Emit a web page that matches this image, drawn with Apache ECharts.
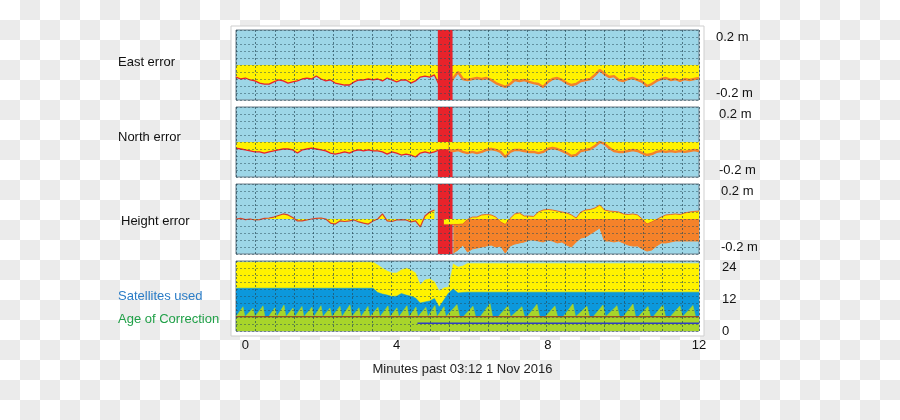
<!DOCTYPE html>
<html>
<head>
<meta charset="utf-8">
<script src="https://cdn.jsdelivr.net/npm/echarts@6/dist/echarts.min.js"></script>
<style>
html, body { margin: 0; padding: 0; }
body { background: repeating-conic-gradient(#ebebeb 0 25%, #ffffff 0 50%) 0 0 / 40px 40px; }
#chart { width: 900px; height: 420px; }
</style>
</head>
<body>
<div id="chart"></div>
<script>
// GNSS error plot: east / north / height error, satellites and correction age
const FONT = '"Liberation Sans", Arial, sans-serif'

// sample times, minutes past 03:12
const times = [-0.25,-0.125,0,0.125,0.25,0.375,0.5,0.625,0.75,0.875,1,1.125,1.25,1.375,1.5,1.625,1.75,1.875,2,2.125,2.25,2.375,2.5,2.625,2.75,2.875,3,3.125,3.25,3.375,3.5,3.625,3.75,3.875,4,4.125,4.25,4.375,4.5,4.625,4.75,4.875,5,5.125,5.25,5.375,5.5,5.625,5.75,5.875,6,6.125,6.25,6.375,6.5,6.625,6.75,6.875,7,7.125,7.25,7.375,7.5,7.625,7.75,7.875,8,8.125,8.25,8.375,8.5,8.625,8.75,8.875,9,9.125,9.25,9.375,9.5,9.625,9.75,9.875,10,10.125,10.25,10.375,10.5,10.625,10.75,10.875,11,11.125,11.25,11.375,11.5,11.625,11.75,11.875,12]

// errors in metres
const eastErr = [-0.086,-0.100,-0.093,-0.107,-0.114,-0.129,-0.136,-0.136,-0.121,-0.107,-0.114,-0.129,-0.121,-0.114,-0.100,-0.093,-0.100,-0.079,-0.100,-0.114,-0.107,-0.129,-0.136,-0.143,-0.143,-0.121,-0.107,-0.107,-0.100,-0.107,-0.100,-0.114,-0.093,-0.107,-0.121,-0.107,-0.107,-0.129,-0.114,-0.086,-0.079,-0.086,-0.071,-0.143,-0.150,-0.150,-0.093,-0.050,-0.100,-0.107,-0.100,-0.093,-0.100,-0.093,-0.107,-0.129,-0.143,-0.157,-0.136,-0.107,-0.114,-0.107,-0.121,-0.129,-0.136,-0.157,-0.121,-0.100,-0.093,-0.107,-0.129,-0.143,-0.136,-0.114,-0.107,-0.100,-0.071,-0.036,-0.064,-0.086,-0.079,-0.107,-0.114,-0.100,-0.093,-0.107,-0.121,-0.150,-0.136,-0.114,-0.100,-0.093,-0.107,-0.100,-0.114,-0.100,-0.107,-0.100,-0.093]

const northErr = [-0.043,-0.050,-0.057,-0.064,-0.071,-0.071,-0.079,-0.071,-0.064,-0.057,-0.050,-0.050,-0.057,-0.079,-0.057,-0.050,-0.043,-0.050,-0.057,-0.064,-0.079,-0.086,-0.079,-0.071,-0.079,-0.064,-0.057,-0.064,-0.057,-0.064,-0.064,-0.071,-0.086,-0.071,-0.079,-0.093,-0.086,-0.093,-0.107,-0.079,-0.071,-0.079,-0.071,-0.057,-0.057,-0.057,-0.064,-0.057,-0.071,-0.079,-0.071,-0.079,-0.071,-0.057,-0.050,-0.057,-0.071,-0.107,-0.071,-0.057,-0.057,-0.064,-0.071,-0.071,-0.079,-0.071,-0.050,-0.043,-0.050,-0.064,-0.079,-0.100,-0.093,-0.064,-0.057,-0.050,-0.029,0.000,-0.014,-0.043,-0.064,-0.071,-0.071,-0.064,-0.057,-0.064,-0.079,-0.093,-0.086,-0.071,-0.064,-0.071,-0.064,-0.071,-0.064,-0.071,-0.064,-0.057,-0.064]

// height before the outage (fixed solution)
const heightFixed = [0,0.004,-0.004,0,-0.007,-0.004,0.004,0.007,0.014,0.025,0.036,0.029,0.011,-0.014,-0.014,-0.007,0,0.004,0.007,0,-0.029,-0.036,-0.014,-0.018,-0.014,-0.007,-0.021,-0.029,-0.036,-0.014,0,0.036,-0.014,-0.018,-0.007,-0.004,-0.007,-0.021,-0.014,-0.057,0.021,0.050,0.064,null,null,null,null,null,null,null,null,null,null,null,null,null,null,null,null,null,null,null,null,null,null,null,null,null,null,null,null,null,null,null,null,null,null,null,null,null,null,null,null,null,null,null,null,null,null,null,null,null,null,null,null,null,null,null,null]
// height after the outage: upper and lower bound
const heightUpper = [null,null,null,null,null,null,null,null,null,null,null,null,null,null,null,null,null,null,null,null,null,null,null,null,null,null,null,null,null,null,null,null,null,null,null,null,null,null,null,null,null,null,null,null,-0.039,-0.039,-0.039,-0.039,-0.036,-0.004,0.014,0.014,0.029,0.032,0.029,0.014,-0.021,-0.039,0.004,0.036,0.043,0.021,0.021,0.018,0.050,0.064,0.068,0.064,0.057,0.050,0.043,0.029,0.007,0.050,0.064,0.068,0.079,0.100,0.064,0.057,0.054,0.050,0.036,0.032,0.036,0.029,0,-0.036,-0.021,-0.004,0.014,0.029,0.032,0.036,0.032,0.043,0.050,0.054,0.057]
const heightLower = [null,null,null,null,null,null,null,null,null,null,null,null,null,null,null,null,null,null,null,null,null,null,null,null,null,null,null,null,null,null,null,null,null,null,null,null,null,null,null,null,null,null,null,null,null,null,-0.243,-0.221,-0.186,-0.236,-0.214,-0.207,-0.200,-0.193,-0.186,-0.200,-0.193,-0.243,-0.193,-0.179,-0.171,-0.164,-0.150,-0.150,-0.157,-0.164,-0.150,-0.157,-0.171,-0.164,-0.186,-0.200,-0.164,-0.136,-0.129,-0.107,-0.086,-0.064,-0.157,-0.157,-0.164,-0.157,-0.171,-0.186,-0.193,-0.193,-0.214,-0.229,-0.221,-0.193,-0.171,-0.171,-0.164,-0.157,-0.157,-0.157,-0.157,-0.157,-0.157]

// satellites visible / used
const satsVisible = [26,26,26,26,26,26,26,26,26,26,26,26,26,26,26,26,26,26,26,26,26,26,26,26,26,26,26,26,26,26,25,23.8,22.7,22,22,23.1,23.8,23.1,22,17.4,19.3,19.7,18.6,15.1,16.3,16.7,25.4,24.2,24.6,25.6,25.6,25.6,25.6,25.6,25.6,25.6,25.6,25.6,25.6,25.6,25.6,25.6,25.6,25.6,25.6,25.6,25.6,25.6,25.6,25.6,25.6,25.6,25.6,25.6,25.6,25.6,25.6,25.6,25.6,25.6,25.6,25.6,25.6,25.6,25.6,25.6,25.6,25.6,25.6,25.6,25.6,25.6,25.6,25.6,25.6,25.6,25.6,25.6,25.6]
const satsUsed = [16.2,16.2,16.2,16.2,16.2,16.2,16.2,16.2,16.2,16.2,16.2,16.2,16.2,16.2,16.2,16.2,16.2,16.2,16.2,16.2,16.2,16.2,16.2,16.2,16.2,16.2,16.2,16.2,16.2,16.2,14.6,14,13.6,13.1,13.2,14.2,13.6,13.2,12.5,10.6,11,11.4,12.3,9.1,11.7,14.4,15.9,14.4,14.6,14.7,14.7,14.7,14.7,14.7,14.7,14.7,14.7,14.7,14.7,14.7,14.7,14.7,14.7,14.7,14.7,14.7,14.7,14.7,14.7,14.7,14.7,14.7,14.7,14.7,14.7,14.7,14.7,14.7,14.7,14.7,14.7,14.7,14.7,14.7,14.7,14.7,14.7,14.7,14.7,14.7,14.7,14.7,14.7,14.7,14.7,14.7,14.7,14.7,14.7]

// age of correction (saw-tooth), own time base
const ageTimes = [-0.25,-0.065,-0.015, 0.03,0.2,0.25, 0.294,0.464,0.514, 0.61,0.78,0.83, 0.85,1.02,1.07, 1.088,1.258,1.308, 1.326,1.496,1.546, 1.59,1.76,1.81, 1.829,1.999,2.049, 2.067,2.237,2.287, 2.331,2.501,2.551, 2.596,2.766,2.816, 2.834,3.004,3.054, 3.072,3.242,3.292, 3.337,3.507,3.557, 3.601,3.771,3.821, 3.839,4.009,4.059, 4.104,4.274,4.324, 4.342,4.512,4.562, 4.606,4.776,4.826, 4.845,5.015,5.065, 5.083,5.253,5.303, 5.337,5.597,5.667, 5.76,6.02,6.09, 6.21,6.47,6.54, 6.686,6.946,7.016, 7.056,7.316,7.386, 7.453,7.713,7.783, 7.929,8.189,8.259, 8.405,8.665,8.735, 8.776,9.036,9.106, 9.199,9.459,9.529, 9.569,9.829,9.899, 9.993,10.253,10.323, 10.39,10.65,10.72, 10.786,11.046,11.116, 11.236,11.496,11.566, 11.58,11.84,11.91, 12]
const ageValues = [5.4,9.2,5.4, 5.4,8.6,5.4, 5.4,9.5,5.4, 5.4,8.8,5.4, 5.4,9.8,5.4, 5.4,8.7,5.4, 5.4,9.3,5.4, 5.4,9.0,5.4, 5.4,9.6,5.4, 5.4,8.7,5.4, 5.4,9.4,5.4, 5.4,9.9,5.4, 5.4,8.8,5.4, 5.4,9.3,5.4, 5.4,9.0,5.4, 5.4,9.5,5.4, 5.4,8.8,5.4, 5.4,9.6,5.4, 5.4,9.1,5.4, 5.4,9.0,5.4, 5.4,9.7,5.4, 5.4,9.2,5.4, 5.4,10.0,5.4, 5.4,9.4,5.4, 5.4,10.4,5.4, 5.4,9.6,5.4, 5.4,9.2,5.4, 5.4,10.1,5.4, 5.4,9.5,5.4, 5.4,10.3,5.4, 5.4,9.4,5.4, 5.4,9.8,5.4, 5.4,9.6,5.4, 5.4,10.2,5.4, 5.4,9.3,5.4, 5.4,9.9,5.4, 5.4,9.5,5.4, 5.4,9.7,5.4, 5.4]
const ageLimit = 5.4
const baseTimes = [4.55, 12]
const baseValues = [2.9, 2.9]

// correction outage window (minutes)
const outage = [5.09, 5.48]

const xTicks = [0, 4, 8, 12]
const errTicks = [-0.2, 0.2]
const satTicks = [0, 12, 24]
const rowLabels = ['East error', 'North error', 'Height error']

// colours
const C = {
  bg: '#9dd6e7', vgrid: 'rgba(40,75,90,0.7)', hgrid: 'rgba(40,75,90,0.5)', yellow: '#fff200', red: '#e8232b',
  orange: '#f5822a', blue: '#0c98dc', lime: '#a8d52a'
}

const pair = (ts, vs) => ts.map((t, i) => [t, vs[i] == null ? null : vs[i]])
const part = (vs, from, to) => times.map((t, i) => [t, i >= from && i <= to ? vs[i] : null])

const grids = [0, 1, 2, 3].map(i => ({
  left: 236, top: 30 + 77 * i, width: 463, height: 70,
  show: true, backgroundColor: C.bg, borderColor: '#6a7c88', borderWidth: 1
}))

const dashV = { show: true, lineStyle: { color: C.vgrid, type: [2, 2], width: 1 } }
const dashH = { show: true, lineStyle: { color: C.hgrid, type: [2, 2], width: 1 } }
const off = { show: false }

const xAxes = [0, 1, 2, 3].map(i => ({
  type: 'value', gridIndex: i, min: -0.25, max: 12,
  axisLine: off, axisTick: off, splitLine: off,
  axisLabel: i === 3 ? { customValues: xTicks, color: '#111', fontSize: 13, margin: 8 } : off,
  name: i === 3 ? 'Minutes past 03:12 1 Nov 2016' : '',
  nameLocation: 'middle', nameGap: 32,
  nameTextStyle: { color: '#222', fontSize: 13, padding: [0, 10, 0, 0] }
})).concat([0, 1, 2, 3].map(i => ({
  // half-minute grid divisions
  type: 'value', gridIndex: i, min: 0, max: 23.87, interval: 1, z: 10,
  axisLine: off, axisTick: off, axisLabel: off, splitLine: dashV
})))

const labelMargins = [17, 20, 22, 23]
const yAxes = [0, 1, 2, 3].map(i => ({
  type: 'value', gridIndex: i, position: 'right', z: 10,
  min: i < 3 ? -0.25 : 0, max: i < 3 ? 0.25 : 26.5, interval: i < 3 ? 0.05 : 2.65,
  axisLine: off, axisTick: off, splitLine: dashH,
  axisLabel: {
    customValues: i < 3 ? errTicks : satTicks,
    formatter: i < 3 ? (v => v + ' m') : (v => String(v)),
    color: '#111', fontSize: 13, margin: labelMargins[i]
  }
}))

function outageSeries(i, z) {
  return {
    type: 'custom', xAxisIndex: i, yAxisIndex: i, z: z, silent: true,
    data: [outage], encode: { x: [0, 1] },
    renderItem: (params, api) => {
      const x0 = api.coord([api.value(0), 0])[0]
      const x1 = api.coord([api.value(1), 0])[0]
      const cs = params.coordSys
      return { type: 'rect', shape: { x: x0, y: cs.y, width: x1 - x0, height: cs.height }, style: { fill: C.red } }
    }
  }
}

function err(i, data, line, fill, width, z) {
  return {
    type: 'line', xAxisIndex: i, yAxisIndex: i, data: data, z: z || 2,
    showSymbol: false, symbol: 'none', connectNulls: false,
    lineStyle: { color: line, width: width || 1.2 },
    areaStyle: fill ? { color: fill, opacity: 1 } : undefined
  }
}

const series = [
  // East
  err(0, part(eastErr, 0, 43), C.red, C.yellow, 1.3),
  err(0, part(eastErr, 43, 98), C.orange, C.yellow, 2.4),
  outageSeries(0, 5),
  // North
  outageSeries(1, 1),
  err(1, part(northErr, 0, 45), C.red, C.yellow, 1.3),
  err(1, part(northErr, 45, 98), C.orange, C.yellow, 2.4),
  // Height
  outageSeries(2, 1),
  err(2, pair(times, heightLower), C.orange, C.orange, 1, 2),
  err(2, pair(times, heightFixed), '#d8402a', C.yellow, 1.2, 3),
  err(2, pair(times, heightUpper), '#e86a2a', C.yellow, 1, 3),
  // Satellites
  err(3, pair(times, satsVisible), C.yellow, C.yellow, 0.5, 2),
  err(3, pair(times, satsUsed), C.blue, C.blue, 0.5, 3),
  err(3, pair(ageTimes, ageValues), C.lime, C.lime, 0.5, 4),
  err(3, [[-0.25, ageLimit], [12, ageLimit]], '#9a2b1e', null, 1, 5),
  err(3, pair(baseTimes, baseValues), '#2f3ec2', null, 1.5, 5)
]

const graphic = [
  { type: 'rect', z: -10, silent: true, shape: { x: 231, y: 26, width: 473, height: 310 },
    style: { fill: '#ffffff', stroke: '#cfcfcf', lineWidth: 1 } }
]
const labelPos = [[118, 62], [118, 137], [121, 221]]
rowLabels.forEach((t, i) => graphic.push({
  type: 'text', left: labelPos[i][0], top: labelPos[i][1] - 6,
  style: { text: t, fill: '#111', font: '13px ' + FONT }
}))
graphic.push({ type: 'text', left: 118, top: 290, style: { text: 'Satellites used', fill: '#2a7cc6', font: '13px ' + FONT } })
graphic.push({ type: 'text', left: 118, top: 313, style: { text: 'Age of Correction', fill: '#20a048', font: '13px ' + FONT } })

const chart = echarts.init(document.getElementById('chart'))
chart.setOption({
  animation: false,
  textStyle: { fontFamily: FONT },
  grid: grids,
  xAxis: xAxes,
  yAxis: yAxes,
  graphic: graphic,
  series: series
})
</script>
</body>
</html>
